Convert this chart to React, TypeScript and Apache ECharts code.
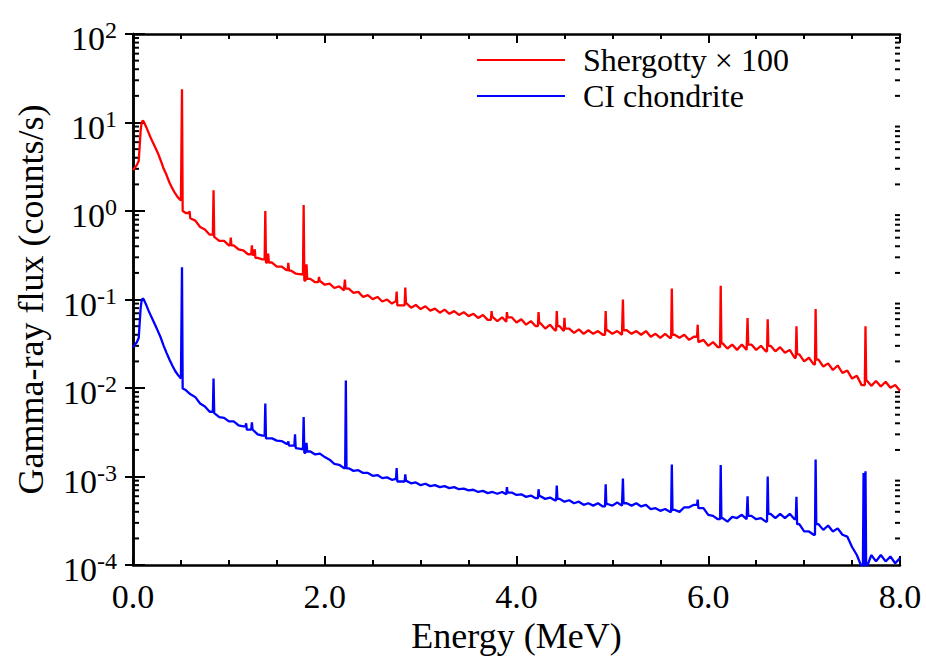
import React, { useEffect, useRef } from "react";
import * as echarts from "echarts";

const FONT = "'Liberation Serif', 'Times New Roman', serif";

// Channel energies (MeV): fine grid at low energy, then a 0.05 MeV grid to 8.0
const lowEnergies = [0, 0.02, 0.04, 0.06, 0.07, 0.08, 0.09, 0.1, 0.11, 0.12, 0.14, 0.16, 0.18, 0.2, 0.23, 0.26, 0.29, 0.32, 0.35, 0.38, 0.41, 0.44, 0.47, 0.5, 0.52];
const gridStart = 0.55;
const gridStep = 0.05;
const gridCount = 150;

// Shergotty x 100 continuum (counts/s)
const shergottyLow = [2.9, 3.1, 3.3, 3.7, 5.5, 8.2, 9.9, 10.5, 10.3, 9.8, 8.8, 7.8, 6.9, 6.2, 5.3, 4.5, 3.7, 3.0, 2.55, 2.1, 1.8, 1.58, 1.42, 1.32, 1.0];
const shergottyGrid = [
  0.95, 0.83, 0.78, 0.66, 0.62, 0.54, 0.51, 0.46, 0.46, 0.41,
  0.41, 0.37, 0.36, 0.325, 0.32, 0.295, 0.285, 0.262, 0.262, 0.236,
  0.236, 0.215, 0.212, 0.196, 0.193, 0.164, 0.171, 0.157, 0.163, 0.147,
  0.151, 0.135, 0.141, 0.127, 0.133, 0.119, 0.122, 0.107, 0.112, 0.101,
  0.107, 0.095, 0.1, 0.09, 0.096, 0.086, 0.092, 0.081, 0.087, 0.078,
  0.084, 0.075, 0.079, 0.071, 0.077, 0.069, 0.074, 0.067, 0.072, 0.065,
  0.069, 0.062, 0.067, 0.059, 0.064, 0.057, 0.063, 0.056, 0.063, 0.055,
  0.06, 0.052, 0.057, 0.05, 0.054, 0.047, 0.052, 0.045, 0.05, 0.044,
  0.047, 0.042, 0.046, 0.041, 0.045, 0.041, 0.044, 0.04, 0.045, 0.041,
  0.044, 0.04, 0.045, 0.041, 0.044, 0.04, 0.044, 0.038, 0.041, 0.037,
  0.041, 0.037, 0.04, 0.037, 0.04, 0.035, 0.038, 0.033, 0.035, 0.03,
  0.033, 0.029, 0.032, 0.028, 0.031, 0.027, 0.031, 0.027, 0.031, 0.027,
  0.03, 0.026, 0.03, 0.026, 0.029, 0.025, 0.027, 0.022, 0.024, 0.02,
  0.022, 0.0185, 0.021, 0.0175, 0.019, 0.016, 0.018, 0.0148, 0.0158, 0.0128,
  0.0138, 0.0108, 0.0124, 0.0106, 0.012, 0.0104, 0.0118, 0.0101, 0.0108, 0.0093,
];
const shergottyPeakEnergy = [0.511, 0.59, 0.84, 1.02, 1.24, 1.27, 1.38, 1.41, 1.62, 1.78, 1.81, 1.94, 2.21, 2.75, 2.84, 3.74, 3.9, 4.23, 4.42, 4.5, 4.93, 5.11, 5.62, 5.89, 6.13, 6.41, 6.62, 6.92, 7.12, 7.64];
const shergottyPeakTop = [23.7, 1.0, 1.72, 0.5, 0.41, 0.37, 1.0, 0.33, 0.26, 1.17, 0.25, 0.18, 0.168, 0.123, 0.137, 0.074, 0.072, 0.072, 0.074, 0.062, 0.074, 0.1, 0.133, 0.052, 0.143, 0.062, 0.06, 0.05, 0.078, 0.05];

// CI chondrite continuum (counts/s)
const ciLow = [0.029, 0.031, 0.033, 0.037, 0.055, 0.081, 0.097, 0.103, 0.101, 0.096, 0.086, 0.076, 0.068, 0.061, 0.052, 0.044, 0.037, 0.03, 0.025, 0.021, 0.018, 0.0156, 0.014, 0.0128, 0.0099];
const ciGrid = [
  0.0095, 0.0085, 0.0079, 0.0067, 0.0062, 0.0054, 0.0052, 0.0047, 0.0046, 0.0042,
  0.0042, 0.0038, 0.0037, 0.0034, 0.0034, 0.003, 0.0029, 0.0027, 0.0027, 0.00255,
  0.00252, 0.00235, 0.00224, 0.0021, 0.00205, 0.00186, 0.00192, 0.00178, 0.00182, 0.00166,
  0.00155, 0.00139, 0.00136, 0.00125, 0.00124, 0.00116, 0.00118, 0.0011, 0.0011, 0.00102,
  0.00104, 0.00096, 0.00098, 0.00092, 0.00094, 0.00088, 0.0009, 0.00084, 0.00086, 0.0008,
  0.00083, 0.00078, 0.0008, 0.00076, 0.00078, 0.00074, 0.00076, 0.00072, 0.00073, 0.0007,
  0.00071, 0.00067, 0.00069, 0.00065, 0.00067, 0.00064, 0.00067, 0.00063, 0.00066, 0.00062,
  0.00063, 0.00059, 0.00061, 0.00057, 0.0006, 0.00056, 0.00058, 0.00054, 0.00056, 0.00052,
  0.00054, 0.0005, 0.00052, 0.00048, 0.0005, 0.00047, 0.0005, 0.00046, 0.00049, 0.00047,
  0.00051, 0.00047, 0.0005, 0.00047, 0.0005, 0.00046, 0.00048, 0.00043, 0.00044, 0.00041,
  0.00043, 0.0004, 0.00042, 0.0004, 0.00045, 0.00045, 0.00048, 0.00044, 0.00044, 0.00037,
  0.00036, 0.00033, 0.00034, 0.00031, 0.00035, 0.00034, 0.00037, 0.00033, 0.00036, 0.00033,
  0.00034, 0.00031, 0.00038, 0.00034, 0.00038, 0.00034, 0.00038, 0.00033, 0.00029, 0.00024,
  0.00024, 0.00022, 0.00029, 0.00025, 0.00028, 0.00024, 0.00026, 0.00022, 0.00021, 0.00016,
  0.00013, 0.000095, 0.00009, 0.00013, 0.00011, 0.00013, 0.00011, 0.000125, 0.000105, 0.00012,
];
const ciPeakEnergy = [0.511, 0.84, 1.18, 1.24, 1.38, 1.62, 1.69, 1.78, 1.81, 2.22, 2.75, 2.84, 3.9, 4.23, 4.42, 4.93, 5.11, 5.62, 5.89, 6.13, 6.41, 6.62, 6.92, 7.12, 7.62, 7.64];
const ciPeakTop = [0.232, 0.0128, 0.004, 0.0041, 0.0067, 0.0025, 0.003, 0.0047, 0.0024, 0.0122, 0.00125, 0.00106, 0.00076, 0.00072, 0.00079, 0.00082, 0.00095, 0.00137, 0.00055, 0.00135, 0.0006, 0.001, 0.00059, 0.00156, 0.0011, 0.00115];

const xTicks = [0, 2, 4, 6, 8];
const seriesNames = ["Shergotty × 100", "CI chondrite"];

function energyAxis(): number[] {
  const e = lowEnergies.slice();
  for (let i = 0; i < gridCount; i++) e.push(Number((gridStart + gridStep * i).toFixed(2)));
  return e;
}

function buildSeries(base: number[], peakE: number[], peakTop: number[]): [number, number][] {
  const energies = energyAxis();
  const pts: [number, number][] = energies.map((e, i) => [e, base[i]]);
  const hw = 0.007;
  peakE.forEach((pe, k) => {
    let i = 0;
    while (i < energies.length - 2 && energies[i + 1] <= pe) i++;
    pts.push([pe - hw, base[i]], [pe, peakTop[k]], [pe + hw, base[i + 1]]);
  });
  pts.sort((a, b) => a[0] - b[0]);
  return pts;
}

export default function App() {
  const ref = useRef<HTMLDivElement>(null);
  useEffect(() => {
    if (!ref.current) return;
    const chart = echarts.init(ref.current, undefined, { renderer: "svg" });
    const shergotty = buildSeries(shergottyLow.concat(shergottyGrid), shergottyPeakEnergy, shergottyPeakTop);
    const ci = buildSeries(ciLow.concat(ciGrid), ciPeakEnergy, ciPeakTop);

    const axisLine = { show: true, lineStyle: { color: "#000", width: 2.5 } };
    const xCommon = {
      type: "value",
      min: xTicks[0],
      max: xTicks[xTicks.length - 1],
      interval: 2,
      axisLine,
      axisTick: { show: true, inside: true, length: 9, lineStyle: { color: "#000", width: 2 } },
      minorTick: { show: true, splitNumber: 4, length: 5, lineStyle: { color: "#000", width: 2 } },
      splitLine: { show: false },
    };
    const yCommon = {
      type: "log",
      logBase: 10,
      min: 1e-4,
      max: 100,
      splitNumber: 6,
      axisLine,
      splitLine: { show: false },
    };

    chart.setOption({
      animation: false,
      textStyle: { fontFamily: FONT },
      grid: { left: 133, right: 26, top: 34, bottom: 87 },
      legend: {
        show: true,
        orient: "vertical",
        left: 472,
        top: 37,
        itemWidth: 88,
        itemHeight: 2,
        itemGap: 0,
        icon: "rect",
        selectedMode: false,
        data: seriesNames,
        textStyle: { fontSize: 32, color: "#000", fontFamily: FONT, lineHeight: 36, padding: [0, 0, 0, 13] },
      },
      xAxis: [
        {
          ...xCommon,
          position: "bottom",
          axisLabel: {
            show: true,
            formatter: (v: number) => v.toFixed(1),
            fontSize: 34,
            color: "#000",
            fontFamily: FONT,
            margin: 14,
          },
          name: "Energy (MeV)",
          nameLocation: "middle",
          nameGap: 48,
          nameTextStyle: { fontSize: 36, color: "#000", fontFamily: FONT },
        },
        { ...xCommon, position: "top", axisLabel: { show: false } },
      ],
      yAxis: [
        {
          ...yCommon,
          position: "left",
          axisTick: { show: true, inside: true, length: 12, lineStyle: { color: "#000", width: 2 } },
          axisLabel: {
            show: true,
            margin: 16,
            padding: [9, 0, 0, 0],
            formatter: (v: number) => `{b|10}{s|${Math.round(Math.log10(v))}}`,
            rich: {
              b: { fontSize: 34, fontFamily: FONT, color: "#000", lineHeight: 41 },
              s: { fontSize: 24, fontFamily: FONT, color: "#000", lineHeight: 24, verticalAlign: "top" },
            },
          },
          name: "Gamma-ray flux (counts/s)",
          nameLocation: "middle",
          nameGap: 84,
          nameRotate: 90,
          nameTextStyle: { fontSize: 36, color: "#000", fontFamily: FONT },
        },
        {
          ...yCommon,
          position: "right",
          axisTick: { show: true, inside: true, length: 8, lineStyle: { color: "#000", width: 2 } },
          axisLabel: { show: false },
        },
      ],
      series: [
        {
          name: seriesNames[0],
          type: "line",
          data: shergotty,
          showSymbol: false,
          symbol: "none",
          silent: true,
          clip: true,
          color: "#ff0000",
          lineStyle: { color: "#ff0000", width: 2.3 },
        },
        {
          name: seriesNames[1],
          type: "line",
          data: ci,
          showSymbol: false,
          symbol: "none",
          silent: true,
          clip: true,
          color: "#0000ff",
          lineStyle: { color: "#0000ff", width: 2.3 },
        },
      ],
    });

    // logarithmic minor ticks (2..9 in each decade) on both y axes
    const xl = chart.convertToPixel({ xAxisIndex: 0 }, xTicks[0]) as number;
    const xr = chart.convertToPixel({ xAxisIndex: 0 }, xTicks[xTicks.length - 1]) as number;
    const minors: any[] = [];
    for (let d = -4; d < 2; d++) {
      for (let m = 2; m <= 9; m++) {
        const y = chart.convertToPixel({ yAxisIndex: 0 }, m * Math.pow(10, d)) as number;
        minors.push({ type: "line", silent: true, shape: { x1: xl, y1: y, x2: xl + 6, y2: y }, style: { stroke: "#000", lineWidth: 2 } });
        minors.push({ type: "line", silent: true, shape: { x1: xr - 5, y1: y, x2: xr, y2: y }, style: { stroke: "#000", lineWidth: 2 } });
      }
    }
    chart.setOption({ graphic: minors });

    return () => chart.dispose();
  }, []);
  return <div ref={ref} style={{ position: "absolute", left: 0, top: 0, width: 926, height: 659 }} />;
}
